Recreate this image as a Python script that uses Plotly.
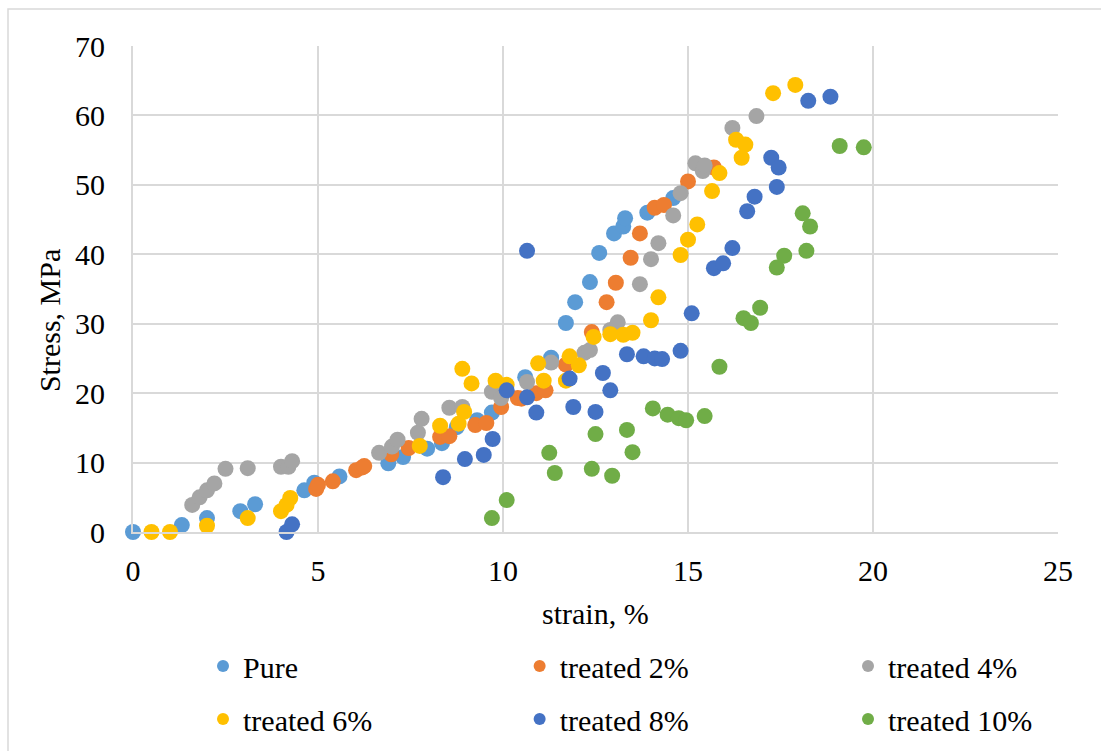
import plotly.graph_objects as go

# strain (%) / stress (MPa) for each specimen group
pure_x = [0, 1.32, 2.0, 2.9, 3.3, 4.63, 4.9, 5.58, 6.9, 7.3, 7.95, 8.35, 8.75, 9.3, 9.7,
          10.6, 11.3, 11.7, 11.95, 12.35, 12.6, 13.0, 13.25, 13.3, 13.9, 14.6]
pure_y = [0, 1, 2, 3, 4, 6, 7.1, 8, 9.9, 10.8, 12, 12.8, 15.1, 16.1, 17.2,
          22.3, 25.1, 30.1, 33.1, 36, 40.2, 43, 44, 45.2, 46, 48.1]

t2_x = [4.95, 5.0, 5.4, 6.03, 6.2, 6.25, 6.98, 7.45, 8.3, 8.55, 9.25, 9.55, 9.95, 10.4, 10.5,
        10.9, 11.15, 11.7, 12.4, 12.8, 13.05, 13.45, 13.7, 14.1, 14.35, 15.0, 15.7]
t2_y = [6.2, 6.8, 7.3, 8.9, 9.3, 9.5, 11.2, 12.1, 13.7, 13.8, 15.4, 15.7, 18.0, 19.3, 19.2,
        20.0, 20.4, 24.1, 28.8, 33.1, 35.9, 39.5, 43.0, 46.7, 47.1, 50.5, 52.5]

t4_x = [1.6, 1.8, 2.0, 2.2, 2.5, 3.1, 4.0, 4.2, 4.3, 6.65, 7.0, 7.15, 7.7, 7.8, 8.55, 8.9,
        9.7, 9.95, 10.65, 11.3, 12.2, 12.35, 12.9, 13.1, 13.7, 14.0, 14.2, 14.6, 14.8,
        15.2, 15.4, 15.45, 16.2, 16.85]
t4_y = [3.9, 5.0, 6.0, 7.0, 9.1, 9.2, 9.4, 9.4, 10.2, 11.4, 12.3, 13.3, 14.3, 16.3, 17.9, 18.0,
        20.2, 19.3, 21.6, 24.4, 25.8, 26.2, 29.1, 30.2, 35.7, 39.3, 41.6, 45.6, 48.8,
        53.1, 52.0, 52.8, 58.2, 59.9]

t6_x = [0.5, 1.0, 2.0, 3.1, 4.0, 4.15, 4.25, 7.75, 8.3, 8.8, 8.95, 8.9, 9.15, 9.8, 10.1,
        10.95, 11.1, 11.7, 11.8, 12.05, 12.45, 12.9, 13.25, 13.5, 14.0, 14.2, 14.8, 15.0,
        15.25, 15.65, 15.85, 16.3, 16.45, 16.55, 17.3, 17.9]
t6_y = [0, 0, 0.9, 2.0, 3.0, 3.9, 4.9, 12.4, 15.3, 15.6, 17.3, 23.5, 21.4, 21.8, 21.2,
        24.3, 21.8, 21.8, 25.3, 24.0, 28.1, 28.5, 28.4, 28.7, 30.5, 33.8, 39.9, 42.1,
        44.3, 49.1, 51.7, 56.5, 53.9, 55.8, 63.2, 64.4]

t8_x = [4.15, 4.3, 8.38, 8.97, 9.48, 9.72, 10.1, 10.65, 10.65, 10.9, 11.8, 11.9, 12.5, 12.7,
        12.9, 13.35, 13.8, 14.1, 14.3, 14.8, 15.1, 15.7, 15.95, 16.2, 16.6, 16.8, 17.25,
        17.4, 17.45, 18.25, 18.85]
t8_y = [0, 1.1, 7.9, 10.5, 11.1, 13.4, 20.4, 19.4, 40.5, 17.2, 22.1, 18.0, 17.3, 22.9,
        20.4, 25.6, 25.3, 25.0, 24.9, 26.1, 31.5, 38.0, 38.7, 40.9, 46.2, 48.3, 53.9,
        49.7, 52.5, 62.1, 62.7]

t10_x = [9.7, 10.1, 11.25, 11.4, 12.4, 12.5, 12.95, 13.35, 13.5, 14.05, 14.45, 14.75, 14.95,
         15.45, 15.85, 16.5, 16.7, 16.95, 17.4, 17.6, 18.1, 18.3, 18.2, 19.1, 19.75]
t10_y = [2.0, 4.6, 11.4, 8.5, 9.1, 14.1, 8.1, 14.7, 11.5, 17.8, 16.9, 16.4, 16.1,
         16.7, 23.8, 30.8, 30.1, 32.3, 38.1, 39.8, 45.9, 44.0, 40.5, 55.6, 55.4]

# (name, x, y, colour, legend column)
series = [
    ("Pure", pure_x, pure_y, "#5B9BD5", "legend"),
    ("treated 2%", t2_x, t2_y, "#ED7D31", "legend2"),
    ("treated 4%", t4_x, t4_y, "#A5A5A5", "legend3"),
    ("treated 6%", t6_x, t6_y, "#FFC000", "legend"),
    ("treated 8%", t8_x, t8_y, "#4472C4", "legend2"),
    ("treated 10%", t10_x, t10_y, "#70AD47", "legend3"),
]

FONT = "Liberation Serif"
FS = 30

fig = go.Figure()
for name, xs, ys, col, leg in series:
    fig.add_trace(go.Scatter(
        x=xs, y=ys, mode="markers", name=name, legend=leg, legendgroup=name,
        marker=dict(size=16, color=col, line=dict(width=0)),
        cliponaxis=False,
    ))


def column_legend(xpos):
    return dict(
        orientation="v", x=xpos, y=-0.2224, xanchor="left", yanchor="top",
        font=dict(family=FONT, size=FS), itemsizing="constant",
        tracegroupgap=11, itemwidth=30, bgcolor="rgba(0,0,0,0)",
    )


fig.update_layout(
    width=1101, height=751,
    margin=dict(l=133, r=43, t=46, b=219, autoexpand=False),
    paper_bgcolor="white", plot_bgcolor="white",
    font=dict(family=FONT, size=FS, color="black"),
    showlegend=True,
    legend=column_legend(0.0757),
    legend2=column_legend(0.418),
    legend3=column_legend(0.773),
    xaxis=dict(
        range=[0, 25], dtick=5, showgrid=True, gridcolor="#D9D9D9", gridwidth=2,
        zeroline=False, showline=True, linecolor="#D9D9D9", linewidth=2,
        ticks="", tickfont=dict(family=FONT, size=FS), ticklabelstandoff=11,
        automargin=False,
    ),
    yaxis=dict(
        range=[0, 70], dtick=10, showgrid=True, gridcolor="#D9D9D9", gridwidth=2,
        zeroline=False, showline=True, linecolor="#D9D9D9", linewidth=2,
        ticks="", tickfont=dict(family=FONT, size=FS), ticklabelstandoff=20,
        automargin=False,
    ),
    annotations=[
        dict(text="strain, %", xref="paper", yref="paper", x=0.5, y=-0.167,
             xanchor="center", yanchor="middle", showarrow=False,
             font=dict(family=FONT, size=FS)),
        dict(text="Stress, MPa", xref="paper", yref="paper", x=-0.0903, y=0.435,
             xanchor="center", yanchor="middle", showarrow=False, textangle=-90,
             font=dict(family=FONT, size=FS)),
    ],
    shapes=[
        dict(type="rect", xref="paper", yref="paper",
             x0=-125 / 925, x1=1.2, y0=-0.6, y1=1 + 37 / 486,
             line=dict(color="#D9D9D9", width=1.5), fillcolor="rgba(0,0,0,0)",
             layer="below"),
    ],
)

fig.write_html("out.html")
